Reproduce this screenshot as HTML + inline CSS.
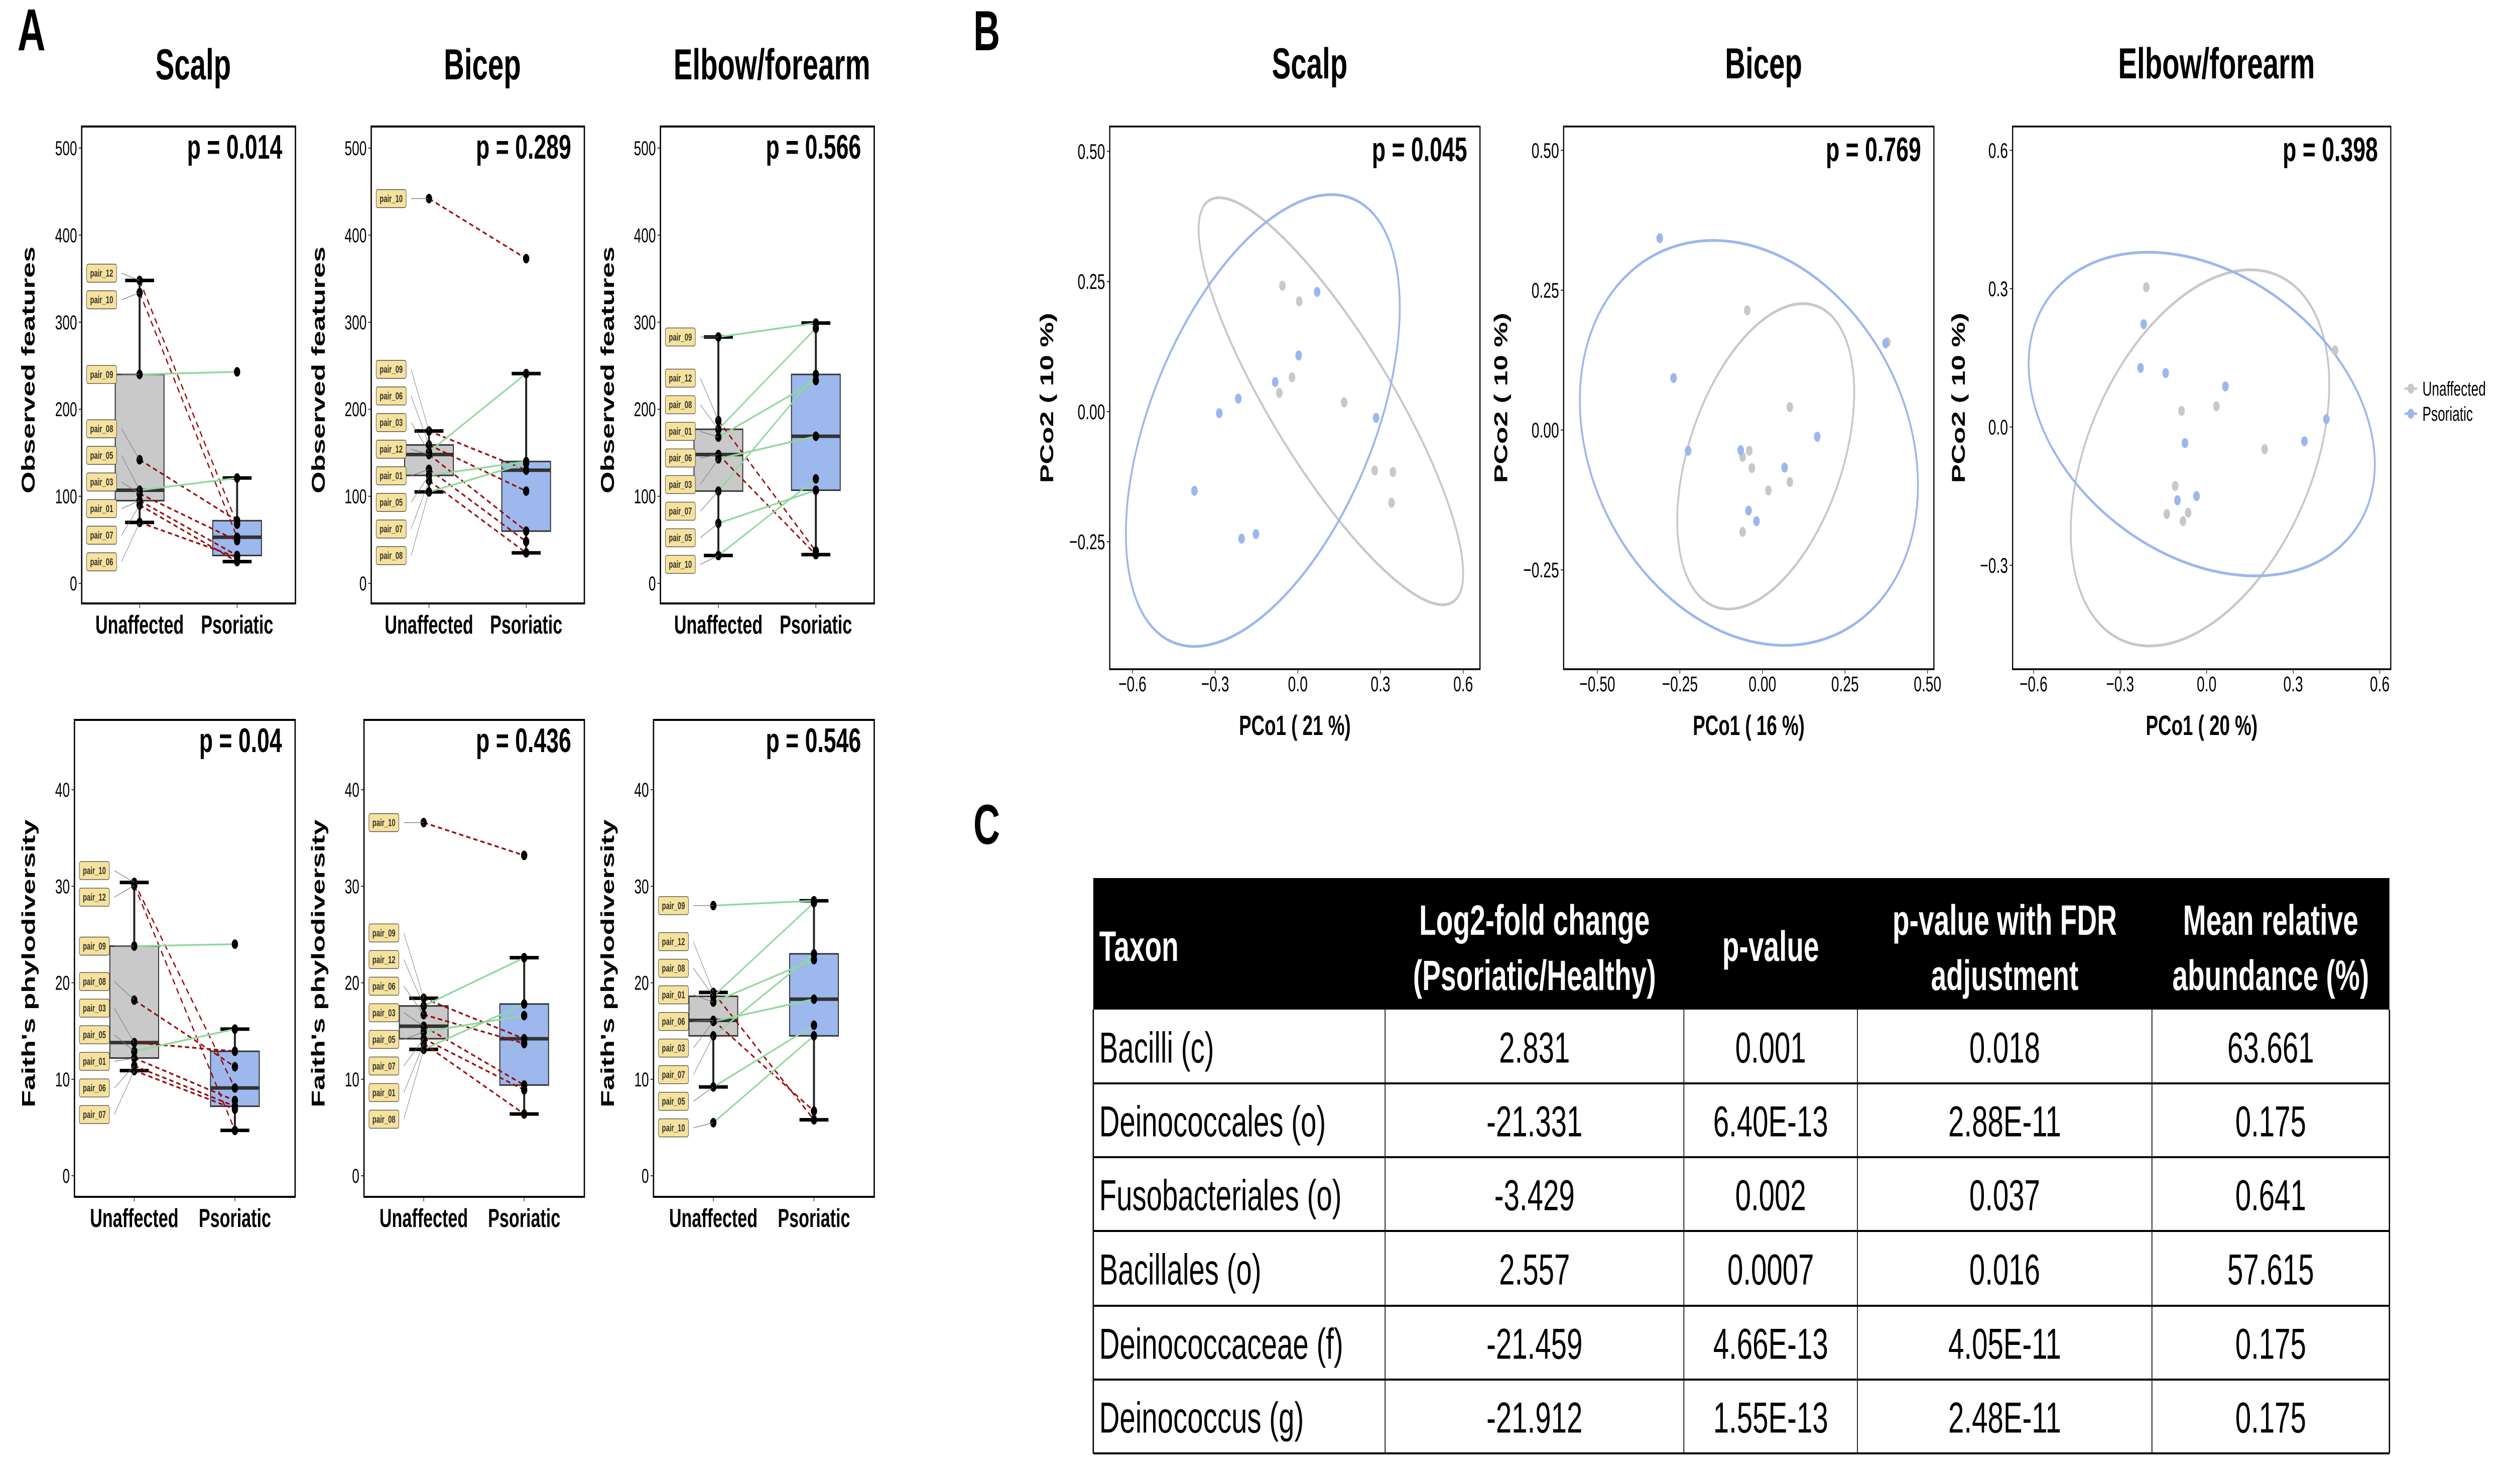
<!DOCTYPE html>
<html><head><meta charset="utf-8">
<style>
html,body{margin:0;padding:0;background:#fff;width:100%;height:100%;overflow:hidden;}
svg{display:block;position:absolute;left:0;top:0;width:100vw;height:100vh;font-family:"Liberation Sans",Arial,sans-serif;}
</style></head>
<body>
<svg id="fig" xmlns="http://www.w3.org/2000/svg" viewBox="0 0 7620 2956" preserveAspectRatio="none">
<rect x="0" y="0" width="7620" height="2956" fill="#fff"/>
<text x="53" y="100" font-size="118" font-weight="bold">A</text>
<text x="2955" y="100" font-size="112" font-weight="bold">B</text>
<text x="2955" y="1681" font-size="112" font-weight="bold">C</text>
</svg>
<script>
// ---------- Panel A data ----------
const scalpObsPairs = ["pair_12","pair_10","pair_09","pair_08","pair_05","pair_03","pair_01","pair_07","pair_06"];
const scalpObsUnaff = [348,334,240,142,107,103,95,90,70];
const scalpObsPsor  = [68,53,243,72,121,49,32,25,30];

const bicepObsPairs = ["pair_10","pair_09","pair_06","pair_03","pair_12","pair_01","pair_05","pair_07","pair_08"];
const bicepObsUnaff = [442,175,159,151,148,131,124,118,105];
const bicepObsPsor  = [373,130,106,241,60,48,140,35,138];

const elbowObsPairs = ["pair_09","pair_12","pair_08","pair_01","pair_06","pair_03","pair_07","pair_05","pair_10"];
const elbowObsUnaff = [283,187,177,168,148,143,106,69,32];
const elbowObsPsor  = [299,37,293,233,33,169,240,107,120];

const scalpPdPairs = ["pair_10","pair_12","pair_09","pair_08","pair_03","pair_05","pair_01","pair_06","pair_07"];
const scalpPdUnaff = [30.4,30.1,23.8,18.2,13.8,12.9,12.2,11.4,10.9];
const scalpPdPsor  = [9.1,4.7,24.0,11.3,12.9,15.2,7.8,7.2,6.9];

const bicepPdPairs = ["pair_10","pair_09","pair_12","pair_06","pair_03","pair_05","pair_07","pair_01","pair_08"];
const bicepPdUnaff = [36.6,18.4,17.6,16.7,15.5,14.9,14.2,13.7,13.1];
const bicepPdPsor  = [33.2,14.2,22.6,13.7,9.4,16.6,8.9,6.4,17.8];

const elbowPdPairs = ["pair_09","pair_12","pair_08","pair_01","pair_06","pair_03","pair_07","pair_05","pair_10"];
const elbowPdUnaff = [28.0,19.0,18.6,18.0,16.1,16.0,14.5,9.2,5.5];
const elbowPdPsor  = [28.5,5.8,28.3,22.4,6.7,18.3,23.0,15.6,14.5];

const obsTicks = [0,100,200,300,400,500];
const pdTicks = [0,10,20,30,40];
const groupLabels = ["Unaffected","Psoriatic"];

// ---------- Panel B data ----------
const scalpPcoUnX = [-0.056,0.005,-0.021,-0.067,0.168,0.279,0.345,0.34];
const scalpPcoUnY = [0.242,0.212,0.066,0.036,0.018,-0.113,-0.116,-0.175];
const scalpPcoPsX = [0.07,0.003,-0.082,-0.216,-0.285,0.284,-0.375,-0.204,-0.152];
const scalpPcoPsY = [0.23,0.108,0.057,0.025,-0.003,-0.012,-0.152,-0.244,-0.235];
const scalpEllUn = [0.12,0.02,0.48,0.391,-0.845];
const scalpEllPs = [-0.127,-0.017,0.497,0.434,0.5];

const bicepPcoUnX = [-0.046,0.378,0.083,-0.040,-0.060,-0.032,0.083,0.018,-0.060];
const bicepPcoUnY = [0.214,0.157,0.041,-0.037,-0.048,-0.068,-0.093,-0.108,-0.182];
const bicepPcoPsX = [-0.311,-0.269,-0.225,-0.066,0.067,0.166,-0.042,-0.018,0.373];
const bicepPcoPsY = [0.343,0.093,-0.037,-0.036,-0.067,-0.012,-0.144,-0.163,0.155];
const bicepEllUn = [0.010,-0.047,0.268,0.273,0.42];
const bicepEllPs = [-0.041,-0.023,0.512,0.362,-0.21];

const elbowPcoUnX = [-0.209,0.445,-0.087,0.034,0.201,-0.109,-0.138,-0.064,-0.082];
const elbowPcoUnY = [0.303,0.166,0.035,0.045,-0.048,-0.128,-0.189,-0.186,-0.204];
const elbowPcoPsX = [-0.218,-0.229,-0.142,0.065,-0.075,0.415,0.339,-0.035,-0.101];
const elbowPcoPsY = [0.223,0.128,0.117,0.088,-0.035,0.017,-0.031,-0.15,-0.159];
const elbowEllUn = [-0.023,-0.067,0.448,0.408,0.39];
const elbowEllPs = [-0.017,0.028,0.600,0.351,-0.31];

const pcoTicks50 = [-0.25,0,0.25,0.5];
const pcoTickLabels50 = ["\u22120.25","0.00","0.25","0.50"];
const pcoXTicks6 = [-0.6,-0.3,0,0.3,0.6];
const pcoXTickLabels6 = ["\u22120.6","\u22120.3","0.0","0.3","0.6"];
const pcoXTicks50 = [-0.5,-0.25,0,0.25,0.5];
const pcoXTickLabels50 = ["\u22120.50","\u22120.25","0.00","0.25","0.50"];
const pcoYTicks3 = [-0.3,0,0.3,0.6];
const pcoYTickLabels3 = ["\u22120.3","0.0","0.3","0.6"];

// ---------- Table data ----------
const tableHeaders = [["Taxon"],["Log2-fold change","(Psoriatic/Healthy)"],["p-value"],["p-value with FDR","adjustment"],["Mean relative","abundance (%)"]];
const tableTaxa = ["Bacilli (c)","Deinococcales (o)","Fusobacteriales (o)","Bacillales (o)","Deinococcaceae (f)","Deinococcus (g)"];
const tableLfc = ["2.831","-21.331","-3.429","2.557","-21.459","-21.912"];
const tablePval = ["0.001","6.40E-13","0.002","0.0007","4.66E-13","1.55E-13"];
const tableFdr = ["0.018","2.88E-11","0.037","0.016","4.05E-11","2.48E-11"];
const tableAbund = ["63.661","0.175","0.641","57.615","0.175","0.175"];

const NS = "http://www.w3.org/2000/svg";
const svg = document.getElementById("fig");
function mk(parent, tag, attrs, text) {
  const e = document.createElementNS(NS, tag);
  for (const k in attrs) e.setAttribute(k, attrs[k]);
  if (text != null) e.textContent = text;
  parent.appendChild(e);
  return e;
}
function quant(arr, p) {
  const s = [...arr].sort((a, b) => a - b);
  const h = (s.length - 1) * p, lo = Math.floor(h);
  const hi = Math.min(lo + 1, s.length - 1);
  return s[lo] + (h - lo) * (s[hi] - s[lo]);
}

function boxPanel(cfg) {
  const g = mk(svg, "g", {});
  
  
  const {l, r, t, b} = cfg;
  const w = r - l;
  const ys = v => cfg.y0 - v * cfg.k;
  const fr = mk(g, "rect", {x: l, y: t, width: w, height: b - t, fill: "#fff", stroke: "none"});
  
  
  if (cfg.title) {
    const tt = mk(g, "text", {x: (l + r) / 2 + 14, y: 158, "font-size": 86, "font-weight": "bold", "text-anchor": "middle"}, cfg.title);
    
    
  }
  cfg.ticks.forEach(v => {
    const tk = mk(g, "line", {x1: l - 9, x2: l, y1: ys(v), y2: ys(v), stroke: "#333", "stroke-width": 2});
    
    
    const tl = mk(g, "text", {x: l - 14, y: ys(v) + 14, "font-size": 40, "text-anchor": "end"}, String(v));
    
    
  });
  const yt = mk(g, "text", {x: 0, y: 0, "font-size": 56, "font-weight": "bold", "text-anchor": "middle", transform: `translate(${l - cfg.ytOff},${(t + b) / 2 + 10}) rotate(-90)`}, cfg.ylab);
  
  
  const cx = [l + 0.271 * w, l + 0.727 * w];
  groupLabels.forEach((lab, i) => {
    const tk = mk(g, "line", {x1: cx[i], x2: cx[i], y1: b, y2: b + 9, stroke: "#333", "stroke-width": 2});
    
    
    const tl = mk(g, "text", {x: cx[i], y: cfg.xlabY, "font-size": 52, "font-weight": "bold", "text-anchor": "middle"}, lab);
    
    
  });
  const groups = [cfg.un, cfg.ps];
  const fills = ["#c9c9c9", "#9cb8ed"];
  groups.forEach((vals, i) => {
    const q1 = quant(vals, 0.25), md = quant(vals, 0.5), q3 = quant(vals, 0.75);
    const iqr = q3 - q1;
    const lw = Math.min(...vals.filter(v => v >= q1 - 1.5 * iqr));
    const uw = Math.max(...vals.filter(v => v <= q3 + 1.5 * iqr));
    const wl = mk(g, "line", {x1: cx[i], x2: cx[i], y1: ys(lw), y2: ys(uw), stroke: "#222", "stroke-width": 6});
    
    
    [lw, uw].forEach(v => {
      const cp = mk(g, "line", {x1: cx[i] - 44, x2: cx[i] + 44, y1: ys(v), y2: ys(v), stroke: "#000", "stroke-width": 7});
      
      
    });
    const bx = mk(g, "rect", {x: cx[i] - 74, y: ys(q3), width: 148, height: ys(q1) - ys(q3), fill: fills[i], stroke: "#333", "stroke-width": 3});
    
    
    const ml = mk(g, "line", {x1: cx[i] - 74, x2: cx[i] + 74, y1: ys(md), y2: ys(md), stroke: "#333", "stroke-width": 7});
    
    
  });
  cfg.un.forEach((u, i) => {
    const p = cfg.ps[i];
    const up = p > u;
    const ln = mk(g, "line", {x1: cx[0], y1: ys(u), x2: cx[1], y2: ys(p), stroke: up ? "#8fd99b" : "#9a0a0a", "stroke-width": 3.5, "stroke-dasharray": up ? "none" : "13 9"});
    
    
  });
  groups.forEach((vals, i) => {
    vals.forEach(v => {
      const c = mk(g, "circle", {cx: cx[i], cy: ys(v), r: 9.5, fill: "#000"});
      
      
    });
  });
  const n = cfg.un.length;
  const order = [...Array(n).keys()].sort((a, b) => cfg.un[b] - cfg.un[a]);
  const ly = order.map(i => ys(cfg.un[i]));
  const gap = 53;
  for (let it = 0; it < 400; it++) {
    for (let j = 0; j < n - 1; j++) {
      const d = ly[j + 1] - ly[j];
      if (d < gap) { const s = (gap - d) / 2; ly[j] -= s; ly[j + 1] += s; }
    }
    for (let j = 0; j < n; j++) { ly[j] = Math.max(t + 30, Math.min(b - 30, ly[j])); }
  }
  const bxL = l + 15;
  order.forEach((idx, j) => {
    const yy = ly[j];
    const ll = mk(g, "line", {x1: bxL + 106, y1: yy, x2: cx[0], y2: ys(cfg.un[idx]), stroke: "#777", "stroke-width": 1.3});
    
    
    const lb = mk(g, "rect", {x: bxL, y: yy - 18, width: 91, height: 36, rx: 5, fill: "#f6e29c", stroke: "#444", "stroke-width": 1.3});
    
    
    const lt = mk(g, "text", {x: bxL + 45.5, y: yy + 7, "font-size": 20, "font-weight": "bold", fill: "#333", "text-anchor": "middle"}, cfg.pairs[idx]);
    
    
  });
  const pv = mk(g, "text", {x: r - 40, y: t + 64, "font-size": 68, "font-weight": "bold", "text-anchor": "end"}, cfg.p);
  
  
  const fb = mk(g, "rect", {x: l, y: t, width: w, height: b - t, fill: "none", stroke: "#000", "stroke-width": 4});
  
  
}

const topY0 = 1162, topK = 1.734, botY0 = 2342, botK = 19.22;
boxPanel({name: "scalp-observed-plot", title: "Scalp", l: 248, r: 897, t: 252, b: 1202, y0: topY0, k: topK, ticks: obsTicks, ylab: "Observed features", ytOff: 143, xlabY: 1262, p: "p = 0.014", pairs: scalpObsPairs, un: scalpObsUnaff, ps: scalpObsPsor});
boxPanel({name: "bicep-observed-plot", title: "Bicep", l: 1127, r: 1774, t: 252, b: 1202, y0: topY0, k: topK, ticks: obsTicks, ylab: "Observed features", ytOff: 141, xlabY: 1262, p: "p = 0.289", pairs: bicepObsPairs, un: bicepObsUnaff, ps: bicepObsPsor});
boxPanel({name: "elbow-observed-plot", title: "Elbow/forearm", l: 2005, r: 2654, t: 252, b: 1202, y0: topY0, k: topK, ticks: obsTicks, ylab: "Observed features", ytOff: 141, xlabY: 1262, p: "p = 0.566", pairs: elbowObsPairs, un: elbowObsUnaff, ps: elbowObsPsor});
boxPanel({name: "scalp-faith-plot", l: 226, r: 896, t: 1434, b: 2384, y0: botY0, k: botK, ticks: pdTicks, ylab: "Faith's phylodiversity", ytOff: 120, xlabY: 2444, p: "p = 0.04", pairs: scalpPdPairs, un: scalpPdUnaff, ps: scalpPdPsor});
boxPanel({name: "bicep-faith-plot", l: 1105, r: 1774, t: 1434, b: 2384, y0: botY0, k: botK, ticks: pdTicks, ylab: "Faith's phylodiversity", ytOff: 120, xlabY: 2444, p: "p = 0.436", pairs: bicepPdPairs, un: bicepPdUnaff, ps: bicepPdPsor});
boxPanel({name: "elbow-faith-plot", l: 1984, r: 2654, t: 1434, b: 2384, y0: botY0, k: botK, ticks: pdTicks, ylab: "Faith's phylodiversity", ytOff: 120, xlabY: 2444, p: "p = 0.546", pairs: elbowPdPairs, un: elbowPdUnaff, ps: elbowPdPsor});

function pcoPanel(cfg) {
  const g = mk(svg, "g", {});
  
  
  const {l, r, t, b} = cfg;
  const xs = v => cfg.x0 + v * cfg.kx;
  const ys = v => cfg.y0 - v * cfg.ky;
  const tt = mk(g, "text", {x: (l + r) / 2 + 45, y: 156, "font-size": 86, "font-weight": "bold", "text-anchor": "middle"}, cfg.title);
  
  
  cfg.xt.forEach((v, i) => {
    const tk = mk(g, "line", {x1: xs(v), x2: xs(v), y1: b, y2: b + 9, stroke: "#333", "stroke-width": 2});
    
    
    const tl = mk(g, "text", {x: xs(v), y: b + 44, "font-size": 43, "text-anchor": "middle"}, cfg.xtl[i]);
    
    
  });
  cfg.yt.forEach((v, i) => {
    const tk = mk(g, "line", {x1: l - 9, x2: l, y1: ys(v), y2: ys(v), stroke: "#333", "stroke-width": 2});
    
    
    const tl = mk(g, "text", {x: l - 14, y: ys(v) + 15, "font-size": 43, "text-anchor": "end"}, cfg.ytl[i]);
    
    
  });
  const xt = mk(g, "text", {x: (l + r) / 2, y: 1464, "font-size": 56, "font-weight": "bold", "text-anchor": "middle"}, cfg.xlab);
  
  
  const yt = mk(g, "text", {x: 0, y: 0, "font-size": 56, "font-weight": "bold", "text-anchor": "middle", transform: `translate(${cfg.ytx + 20},${(t + b) / 2}) rotate(-90)`}, "PCo2 ( 10 %)");
  
  
  const cols = ["#c8c8c8", "#9bb7ee"];
  [cfg.eUn, cfg.ePs].forEach((e, i) => {
    const [ecx, ecy, hx, hy, rr] = e;
    let d = "";
    for (let k = 0; k <= 120; k++) {
      const th = k / 120 * 2 * Math.PI;
      const px = xs(ecx + hx * Math.cos(th));
      const py = ys(ecy + hy * (rr * Math.cos(th) + Math.sqrt(1 - rr * rr) * Math.sin(th)));
      d += (k ? "L" : "M") + px.toFixed(1) + "," + py.toFixed(1);
    }
    const p = mk(g, "path", {d: d + "Z", fill: "none", stroke: cols[i], "stroke-width": 5.5});
    
    
  });
  [[cfg.ux, cfg.uy], [cfg.px, cfg.py]].forEach((s, i) => {
    s[0].forEach((v, j) => {
      const c = mk(g, "circle", {cx: xs(v), cy: ys(s[1][j]), r: 10, fill: cols[i]});
      
      
    });
  });
  const pv = mk(g, "text", {x: r - 39, y: 321, "font-size": 68, "font-weight": "bold", "text-anchor": "end"}, cfg.p);
  
  
  const fb = mk(g, "rect", {x: l, y: t, width: r - l, height: b - t, fill: "none", stroke: "#000", "stroke-width": 3.5});
  
  
}
pcoPanel({name: "scalp-pcoa-plot", title: "Scalp", l: 3369, r: 4493, t: 252, b: 1333, x0: 3940, kx: 836.7, y0: 820, ky: 1037, xt: pcoXTicks6, xtl: pcoXTickLabels6, yt: pcoTicks50, ytl: pcoTickLabels50, xlab: "PCo1 ( 21 %)", ytx: 3177, p: "p = 0.045", ux: scalpPcoUnX, uy: scalpPcoUnY, px: scalpPcoPsX, py: scalpPcoPsY, eUn: scalpEllUn, ePs: scalpEllPs});
pcoPanel({name: "bicep-pcoa-plot", title: "Bicep", l: 4747, r: 5871, t: 252, b: 1333, x0: 5350.5, kx: 1002.5, y0: 856.6, ky: 1114.3, xt: pcoXTicks50, xtl: pcoXTickLabels50, yt: pcoTicks50, ytl: pcoTickLabels50, xlab: "PCo1 ( 16 %)", ytx: 4556, p: "p = 0.769", ux: bicepPcoUnX, uy: bicepPcoUnY, px: bicepPcoPsX, py: bicepPcoPsY, eUn: bicepEllUn, ePs: bicepEllPs});
pcoPanel({name: "elbow-pcoa-plot", title: "Elbow/forearm", l: 6110, r: 7258, t: 252, b: 1333, x0: 6699, kx: 876, y0: 850.5, ky: 918.4, xt: pcoXTicks6, xtl: pcoXTickLabels6, yt: pcoYTicks3, ytl: pcoYTickLabels3, xlab: "PCo1 ( 20 %)", ytx: 5945, p: "p = 0.398", ux: elbowPcoUnX, uy: elbowPcoUnY, px: elbowPcoPsX, py: elbowPcoPsY, eUn: elbowEllUn, ePs: elbowEllPs});

const lg = mk(svg, "g", {});


[["Unaffected", "#c8c8c8", 774], ["Psoriatic", "#9bb7ee", 824]].forEach(e => {
  const ln = mk(lg, "line", {x1: 7300, x2: 7338, y1: e[2], y2: e[2], stroke: e[1], "stroke-width": 5});
  
  
  const c = mk(lg, "circle", {cx: 7319, cy: e[2], r: 10, fill: e[1]});
  
  
  const tx = mk(lg, "text", {x: 7354, y: e[2] + 14, "font-size": 40}, e[0]);
  
  
});

const tg = mk(svg, "g", {});


const colX = [3319, 4205, 5112, 5639, 6533, 7254];
const rowY = [1749, 2011, 2158, 2305, 2452, 2601, 2748, 2895];
const hdr = mk(tg, "rect", {x: colX[0], y: rowY[0], width: colX[5] - colX[0], height: rowY[1] - rowY[0], fill: "#000"});


tableHeaders.forEach((lines, i) => {
  const left = i === 0;
  const x = left ? colX[0] + 18 : (colX[i] + colX[i + 1]) / 2;
  lines.forEach((s, j) => {
    const y = lines.length === 1 ? 1914 : (j === 0 ? 1862 : 1972);
    const tx = mk(tg, "text", {x: x, y: y, "font-size": 84, "font-weight": "bold", fill: "#fff", "text-anchor": left ? "start" : "middle"}, s);
    
    
  });
});
const cols = [tableTaxa, tableLfc, tablePval, tableFdr, tableAbund];
tableTaxa.forEach((_, ri) => {
  const y0 = rowY[ri + 1], y1 = rowY[ri + 2];
  cols.forEach((arr, ci) => {
    const left = ci === 0;
    const x = left ? colX[0] + 18 : (colX[ci] + colX[ci + 1]) / 2;
    const tx = mk(tg, "text", {x: x, y: (y0 + y1) / 2 + 32, "font-size": 86, "text-anchor": left ? "start" : "middle"}, arr[ri]);
    
    
  });
  const hl = mk(tg, "line", {x1: colX[0], x2: colX[5], y1: y1, y2: y1, stroke: "#000", "stroke-width": 4});
  
  
});
colX.forEach((x, i) => {
  const vl = mk(tg, "line", {x1: x, x2: x, y1: rowY[1], y2: rowY[7], stroke: "#000", "stroke-width": (i === 0 || i === 5) ? 4 : 2.5});
  
  
});
</script>
</body></html>
